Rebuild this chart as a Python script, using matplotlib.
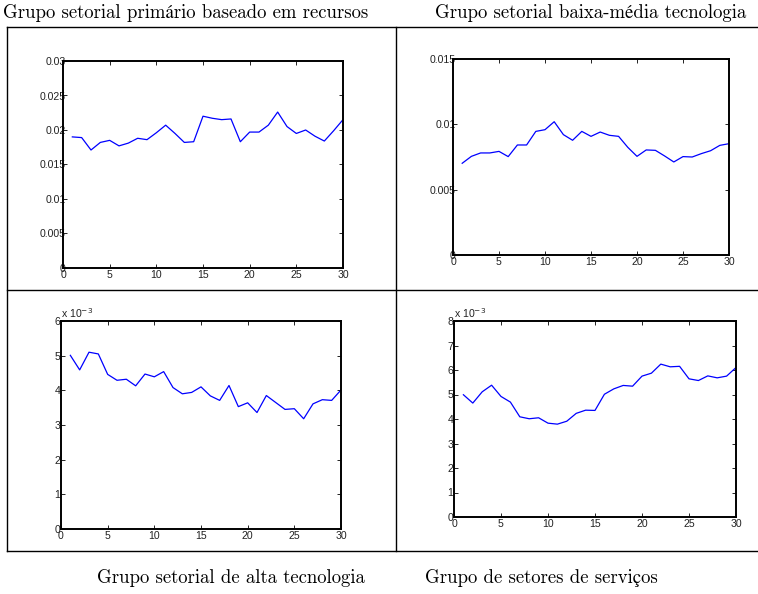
import matplotlib
matplotlib.use('Agg')
import matplotlib.pyplot as plt
from matplotlib.lines import Line2D

# Dados (periodos 1..30)
periodos = list(range(1, 31))

primario = [0.0190, 0.0189, 0.0171, 0.0182, 0.0185, 0.0177, 0.0181, 0.0188, 0.0186, 0.0196,
            0.0207, 0.0195, 0.0182, 0.0183, 0.0220, 0.0217, 0.0215, 0.0216, 0.0183, 0.0197,
            0.0197, 0.0207, 0.0226, 0.0205, 0.0195, 0.0200, 0.0191, 0.0184, 0.0199, 0.0215]

baixa_media = [0.00702, 0.00755, 0.00781, 0.00781, 0.00793, 0.00753, 0.00842, 0.00842, 0.00946, 0.00959,
               0.01020, 0.00921, 0.00878, 0.00946, 0.00908, 0.00941, 0.00916, 0.00908, 0.00824, 0.00755,
               0.00804, 0.00801, 0.00758, 0.00712, 0.00753, 0.00750, 0.00776, 0.00798, 0.00839, 0.00852]

# em unidades de 1e-3
alta = [5.01, 4.59, 5.10, 5.05, 4.46, 4.29, 4.32, 4.13, 4.47, 4.39,
        4.54, 4.08, 3.90, 3.94, 4.10, 3.84, 3.71, 4.14, 3.53, 3.64,
        3.36, 3.85, 3.65, 3.45, 3.47, 3.18, 3.61, 3.73, 3.71, 4.01]

servicos = [4.99, 4.65, 5.11, 5.38, 4.92, 4.69, 4.09, 4.01, 4.05, 3.83,
            3.79, 3.91, 4.23, 4.36, 4.35, 5.01, 5.23, 5.37, 5.34, 5.75,
            5.87, 6.24, 6.13, 6.15, 5.64, 5.57, 5.76, 5.68, 5.75, 6.10]

titulos_topo = ['Grupo setorial primário baseado em recursos', 'Grupo setorial baixa-média tecnologia']
titulos_base = ['Grupo setorial de alta tecnologia', 'Grupo de setores de serviços']

W, H = 758, 594
fig = plt.figure(figsize=(W / 100, H / 100), dpi=100)


def px_axes(left, right, top, bottom):
    return fig.add_axes([left / W, 1 - bottom / H, (right - left) / W, (bottom - top) / H])


def estilo(ax, yticks, ylabels, ymax, ypad):
    ax.set_xlim(0, 30)
    ax.set_ylim(0, ymax)
    ax.set_xticks([0, 5, 10, 15, 20, 25, 30])
    ax.set_yticks(yticks)
    ax.set_yticklabels(ylabels)
    for s in ax.spines.values():
        s.set_linewidth(1.4)
    ax.tick_params(direction='in', length=3, width=0.6, top=True, right=True,
                   labelsize=7.6)
    ax.tick_params(axis='y', pad=ypad)
    ax.tick_params(axis='x', pad=1.5)
    for lb in ax.get_xticklabels() + ax.get_yticklabels():
        lb.set_fontfamily('Liberation Sans')
        lb.set_color('#222222')


azul = '#0000ff'

ax1 = px_axes(63, 343, 61, 268)
ax1.plot(periodos, primario, color=azul, lw=0.9)
estilo(ax1, [0, 0.005, 0.01, 0.015, 0.02, 0.025, 0.03],
       ['0', '0.005', '0.01', '0.015', '0.02', '0.025', '0.03'], 0.03, -2)

ax2 = px_axes(453, 729, 59, 255)
ax2.plot(periodos, baixa_media, color=azul, lw=0.9)
estilo(ax2, [0, 0.005, 0.01, 0.015], ['0', '0.005', '0.01', '0.015'], 0.015, -2)

ax3 = px_axes(61, 341, 321, 529)
ax3.plot(periodos, alta, color=azul, lw=0.9)
estilo(ax3, [0, 1, 2, 3, 4, 5, 6], ['0', '1', '2', '3', '4', '5', '6'], 6, 0.5)

ax4 = px_axes(454, 736, 321, 517)
ax4.plot(periodos, servicos, color=azul, lw=0.9)
estilo(ax4, [0, 1, 2, 3, 4, 5, 6, 7, 8], ['0', '1', '2', '3', '4', '5', '6', '7', '8'], 8, 0.5)

for ax in (ax3, ax4):
    ax.text(0.0, 1.005, r'x 10$^{-3}$', transform=ax.transAxes, ha='left', va='bottom',
            fontsize=7.6, fontfamily='Liberation Sans', color='#222222')

# moldura da tabela
moldura = [((7, 760), (27, 27)), ((7, 760), (290, 290)), ((7, 760), (551, 551)),
           ((7, 7), (27, 551)), ((396, 396), (27, 551))]
for xs, ys in moldura:
    fig.add_artist(Line2D([x / W for x in xs], [1 - y / H for y in ys],
                          transform=fig.transFigure, color='black', lw=1.0))

fonte_titulo = ['cmr10', 'STIXGeneral']
for texto, x, y in [(titulos_topo[0], 3, 18), (titulos_topo[1], 435, 18),
                    (titulos_base[0], 97, 583), (titulos_base[1], 425, 583)]:
    fig.text(x / W, 1 - y / H, texto, ha='left', va='baseline', fontsize=13.5,
             family=fonte_titulo)

fig.savefig('out.png', dpi=100)
